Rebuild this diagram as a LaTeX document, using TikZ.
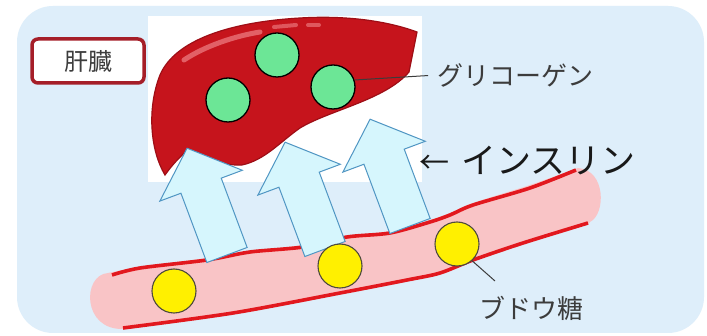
\documentclass[tikz,border=0pt]{standalone}
\usepackage{fontspec}
\newfontfamily\jpfont{Noto Sans CJK JP}
\definecolor{bgblue}{RGB}{222,238,250}
\definecolor{liverred}{RGB}{198,20,28}
\definecolor{liveredge}{RGB}{158,14,22}
\definecolor{liverlight}{RGB}{232,110,116}
\definecolor{glygreen}{RGB}{108,230,150}
\definecolor{sugaryellow}{RGB}{255,240,0}
\definecolor{vesselpink}{RGB}{249,196,198}
\definecolor{vesselred}{RGB}{226,24,30}
\definecolor{arrowfill}{RGB}{214,246,253}
\definecolor{arrowedge}{RGB}{80,150,195}
\definecolor{tagred}{RGB}{165,30,40}
\definecolor{labelgray}{RGB}{60,60,60}
\tikzset{
  glyco/.style={circle, minimum size=44pt, inner sep=0pt, fill=glygreen, draw=black, line width=1.3pt},
  sugar/.style={circle, minimum size=44pt, inner sep=0pt, fill=sugaryellow, draw=black!80!yellow, line width=1.1pt},
  vesselline/.style={draw=vesselred, line width=3.6pt},
  blockarrow/.style={fill=arrowfill, draw=arrowedge, line width=1pt, line join=miter},
  tagbox/.style={draw=tagred, fill=white, line width=3.5pt, rounded corners=6pt,
    minimum width=112pt, minimum height=44pt, inner sep=0pt, text=labelgray,
    font=\jpfont\fontsize{24}{24}\selectfont},
  label/.style={inner sep=0pt, anchor=west, text=labelgray, font=\jpfont\fontsize{26}{26}\selectfont},
  leader/.style={draw=labelgray, line width=1pt},
  upblock/.pic={
    \path[blockarrow] (-21.5,0) -- (-21.5,-74) -- (-44,-74) -- (0,-114)
      -- (44,-74) -- (21.5,-74) -- (21.5,0) -- cycle;
  }
}
\begin{document}
\begin{tikzpicture}[x=1pt,y=-1pt]
\useasboundingbox (0,0) rectangle (707,336);
\fill[white] (0,0) rectangle (707,336);
% panel
\fill[bgblue, rounded corners=36pt] (17,6) rectangle (704,333);
% white card behind the liver
\fill[white] (148,16) rectangle (422,182);

% liver
\path[fill=liverred, draw=liveredge, line width=1.2pt]
  (165,175) .. controls (150,150) and (147,108) .. (160,75)
  .. controls (175,40) and (230,22) .. (300,18)
  .. controls (350,15) and (390,22) .. (417,32)
  -- (409,72)
  .. controls (385,100) and (330,110) .. (300,128)
  .. controls (280,142) and (265,160) .. (242,165)
  .. controls (220,166) and (200,156) .. (188,150)
  .. controls (178,158) and (170,168) .. (165,175) -- cycle;
% gloss on the liver
\draw[liverlight, line width=5pt, line cap=round, opacity=0.85]
  (184,60) .. controls (205,46) and (235,36) .. (260,32);
\draw[liverlight, line width=4pt, line cap=round, opacity=0.75]
  (274,27) -- (296,25);
\draw[liverlight, line width=4pt, line cap=round, opacity=0.75]
  (308,25) -- (319,25);

% glycogen granules
\node[glyco] (g1) at (228,100) {};
\node[glyco] (g2) at (277,55) {};
\node[glyco] (g3) at (333,87) {};

% blood vessel
\fill[vesselpink]
  plot[smooth, tension=0.5] coordinates {(108,273) (140,267) (207,258) (250,251) (303,245)
     (347,236) (390,231) (430,220) (450,213) (473,203) (530,185) (578,168)}
  .. controls (606,170) and (606,214) .. (590,222)
  -- plot[smooth, tension=0.5] coordinates {(588,224) (523,244) (473,261) (440,274)
     (407,281) (340,294) (233,313) (123,329)}
  .. controls (82,330) and (82,275) .. (108,273) -- cycle;
\draw[vesselline] plot[smooth, tension=0.5] coordinates {(112,275) (140,268) (207,260)
  (250,252) (303,247) (347,237) (390,233) (430,222) (450,215) (473,205) (530,188) (576,170)};
\draw[vesselline] plot[smooth, tension=0.5] coordinates {(123,328) (233,313) (340,293)
  (407,280) (440,273) (473,260) (523,243) (588,223)};

% insulin-driven uptake arrows
\pic[rotate=20.5] at (227,255) {upblock};
\pic[rotate=20.5] at (325,249) {upblock};
\pic[rotate=20.5] at (410,226) {upblock};

% glucose molecules
\node[sugar] (s1) at (174,291) {};
\node[sugar] (s2) at (340,266) {};
\node[sugar] (s3) at (457,244) {};

% labels
\node[tagbox] (liver) at (88,61) {肝臓};
\node[label] (glytext) at (437,75) {グリコーゲン};
\draw[leader] (g3.18) -- (glytext.west) [shorten >=9pt];
\node[label, text=black!90] (insulin) at (419,161)
  {{\fontsize{30}{30}\selectfont ←}\hspace{12pt}\fontsize{35}{35}\selectfont インスリン};
\node[label] (glucose) at (479,308) {ブドウ糖};
\coordinate (gluend) at (495,281);
\draw[leader] (s3.-48) -- (gluend);
\end{tikzpicture}
\end{document}
